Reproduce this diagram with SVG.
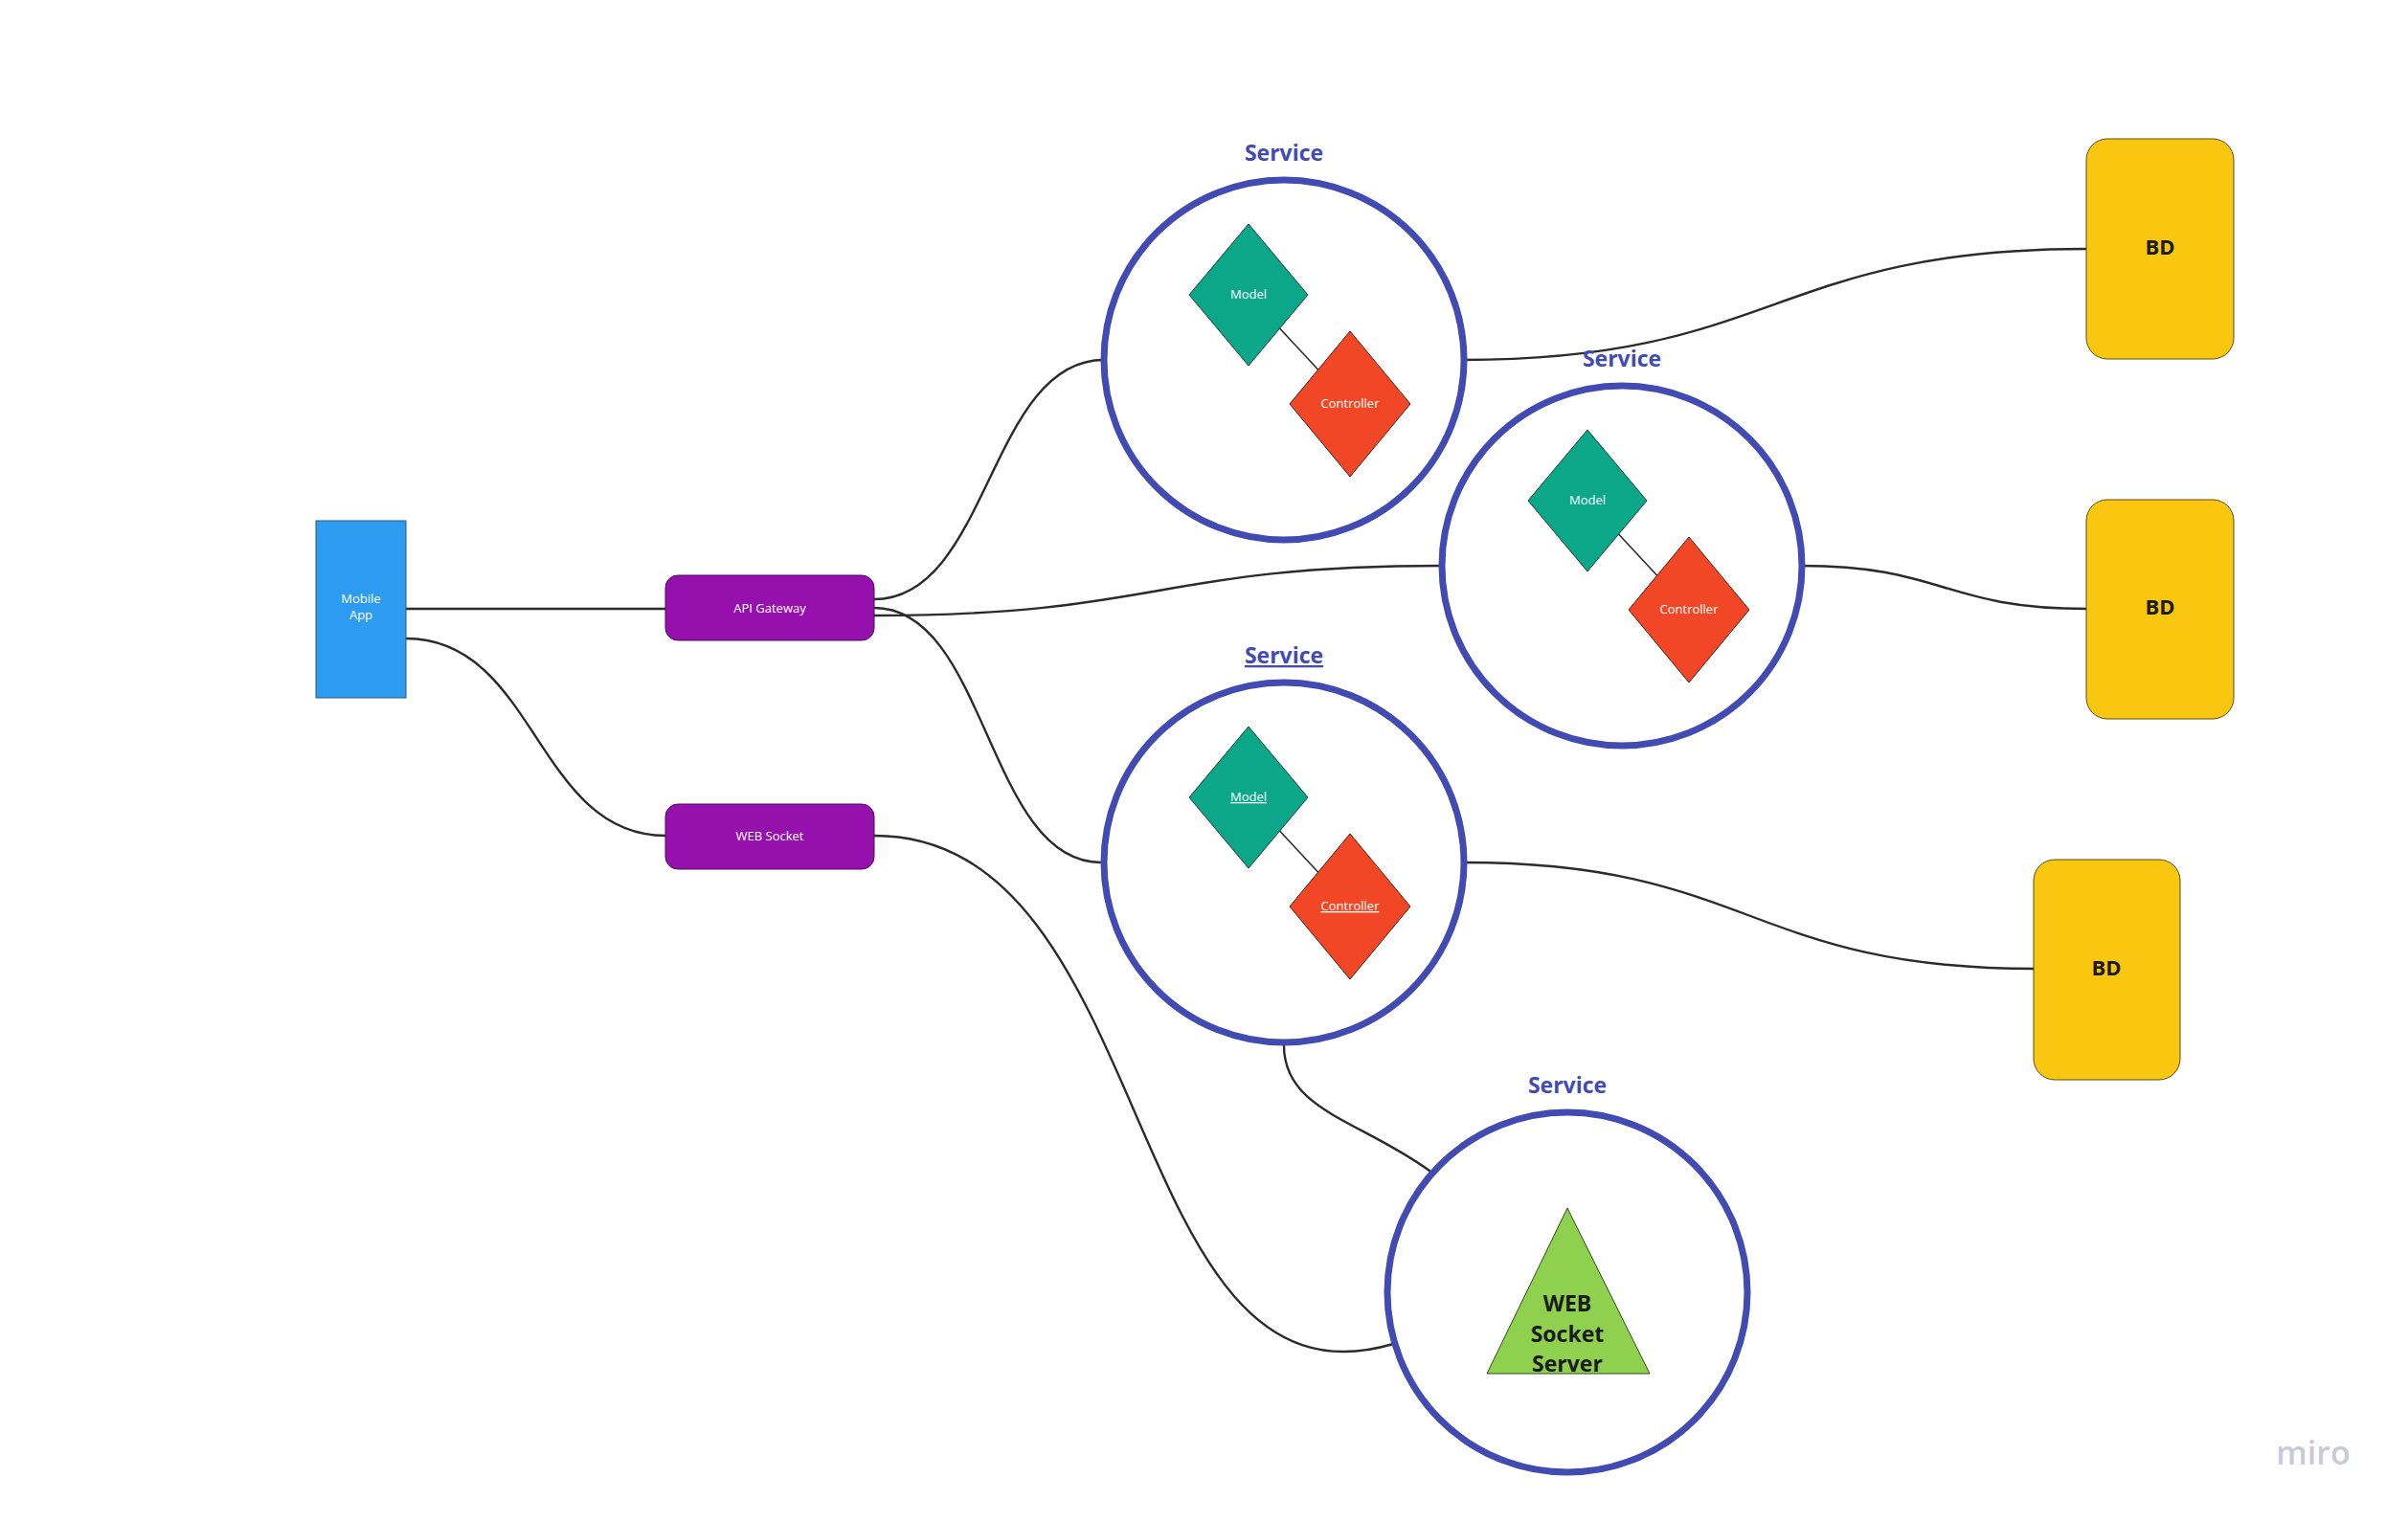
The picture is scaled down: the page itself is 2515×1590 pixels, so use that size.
<svg xmlns="http://www.w3.org/2000/svg" width="2515" height="1590" viewBox="0 0 2515 1590">
<style>
  .conn { fill: none; stroke: #2b2b2b; stroke-width: 2.4; stroke-linecap: round; }
  .inner { fill: none; stroke: #2b2b2b; stroke-width: 1.6; }
  .svc { fill: #ffffff; stroke: #414BB2; stroke-width: 7; }
  .svcLabel { font-family: "Open Sans", "Liberation Sans", sans-serif; font-weight: 700; font-size: 23px; fill: #414BB2; text-anchor: middle; }
  .model { fill: #0CA789; stroke: #1e3b33; stroke-width: 1; }
  .ctrl { fill: #F24726; stroke: #4a1a10; stroke-width: 1; }
  .small { font-family: "Open Sans", "Liberation Sans", sans-serif; font-size: 13px; fill: #ffffff; text-anchor: middle; }
  .purple { fill: #9510AC; stroke: #4d0a5a; stroke-width: 1; }
  .bd { fill: #FAC710; stroke: #5a4a10; stroke-width: 1; }
  .bdLabel { font-family: "Open Sans", "Liberation Sans", sans-serif; font-weight: 700; font-size: 22px; fill: #1a1a1a; text-anchor: middle; }
  .big { font-family: "Open Sans", "Liberation Sans", sans-serif; font-weight: 700; font-size: 23px; fill: #1a1a1a; text-anchor: middle; }
  .ul { text-decoration: underline; }
</style>
<rect x="0" y="0" width="2515" height="1590" fill="#ffffff"/>

<g id="connectors">
  <path class="conn" d="M424,636 L695,636"/>
  <path class="conn" d="M424,667 C560,667 560,873 695,873"/>
  <path class="conn" d="M913,626 C1033,626 1033,376 1153,376"/>
  <path class="conn" d="M913,643 C1210,643 1210,591 1506,591"/>
  <path class="conn" d="M913,635 C1031,635 1031,901 1150,901"/>
  <path class="conn" d="M913,873 C1213,873 1168,1489 1455,1404"/>
  <path class="conn" d="M1341,1092 C1341,1160 1420,1170 1493,1223"/>
  <path class="conn" d="M1528,376 C1853,376 1853,260 2179,260"/>
  <path class="conn" d="M1881,591 C2030,591 2030,636 2179,636"/>
  <path class="conn" d="M1530,901 C1827,901 1827,1012 2124,1012"/>
</g>

<g id="mobile-app">
  <rect x="330" y="544" width="94" height="185" fill="#2D9BF0" stroke="#2a5a80" stroke-width="1"/>
  <text class="small" x="377" y="630">Mobile</text>
  <text class="small" x="377" y="647">App</text>
</g>

<g id="api-gateway">
  <rect class="purple" x="695" y="601" width="218" height="68" rx="13"/>
  <text class="small" x="804" y="640">API Gateway</text>
</g>

<g id="web-socket">
  <rect class="purple" x="695" y="840" width="218" height="68" rx="13"/>
  <text class="small" x="804" y="878">WEB Socket</text>
</g>

<g id="service-1">
  <text class="svcLabel" x="1341" y="168">Service</text>
  <circle class="svc" cx="1341" cy="376" r="188"/>
  <line class="inner" x1="1304" y1="308" x2="1410" y2="422"/>
  <polygon class="model" points="1304,234 1366,308 1304,382 1242,308"/>
  <text class="small" x="1304" y="312">Model</text>
  <polygon class="ctrl" points="1410,346 1473,422 1410,498 1347,422"/>
  <text class="small" x="1410" y="426">Controller</text>
</g>

<g id="service-2">
  <text class="svcLabel" x="1694" y="383">Service</text>
  <circle class="svc" cx="1694" cy="591" r="188"/>
  <line class="inner" x1="1658" y1="523" x2="1764" y2="637"/>
  <polygon class="model" points="1658,449 1720,523 1658,597 1596,523"/>
  <text class="small" x="1658" y="527">Model</text>
  <polygon class="ctrl" points="1764,561 1827,637 1764,713 1701,637"/>
  <text class="small" x="1764" y="641">Controller</text>
</g>

<g id="service-3">
  <text class="svcLabel ul" x="1341" y="693">Service</text>
  <circle class="svc" cx="1341" cy="901" r="188"/>
  <line class="inner" x1="1304" y1="833" x2="1410" y2="947"/>
  <polygon class="model" points="1304,759 1366,833 1304,907 1242,833"/>
  <text class="small ul" x="1304" y="837">Model</text>
  <polygon class="ctrl" points="1410,871 1473,947 1410,1023 1347,947"/>
  <text class="small ul" x="1410" y="951">Controller</text>
</g>

<g id="service-4">
  <text class="svcLabel" x="1637" y="1142">Service</text>
  <circle class="svc" cx="1637" cy="1350" r="188"/>
  <polygon points="1637,1262 1723,1435 1553,1435" fill="#8FD14F" stroke="#2f4a1a" stroke-width="1"/>
  <text class="big" x="1637" y="1370">WEB</text>
  <text class="big" x="1637" y="1402">Socket</text>
  <text class="big" x="1637" y="1433">Server</text>
</g>

<g id="bd-1">
  <rect class="bd" x="2179" y="145" width="154" height="230" rx="22"/>
  <text class="bdLabel" x="2256" y="266">BD</text>
</g>

<g id="bd-2">
  <rect class="bd" x="2179" y="522" width="154" height="229" rx="22"/>
  <text class="bdLabel" x="2256" y="642">BD</text>
</g>

<g id="bd-3">
  <rect class="bd" x="2124" y="898" width="153" height="230" rx="22"/>
  <text class="bdLabel" x="2200" y="1019">BD</text>
</g>

<text x="2416" y="1530" font-family="'Open Sans', 'Liberation Sans', sans-serif" font-size="34" font-weight="600" fill="#C9CAD6" text-anchor="middle">miro</text>
</svg>
